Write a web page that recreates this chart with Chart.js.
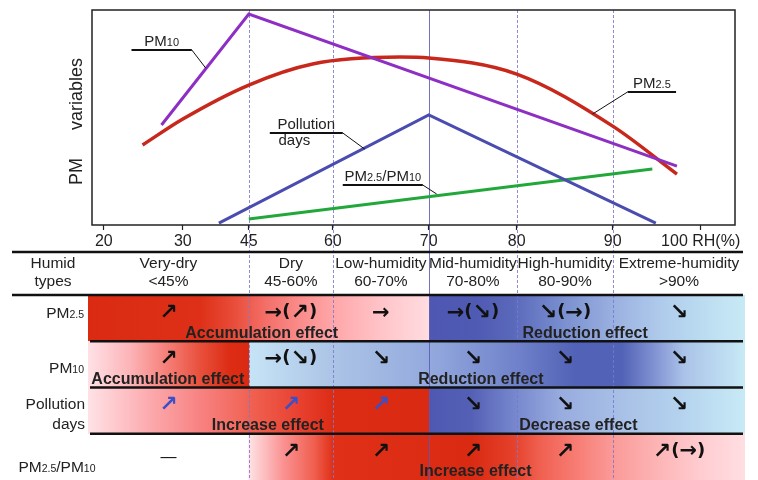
<!DOCTYPE html>
<html>
<head>
<meta charset="utf-8">
<script src="https://cdn.jsdelivr.net/npm/chart.js@4.4.1/dist/chart.umd.min.js"></script>
<style>
  html, body { margin: 0; padding: 0; background: #fff; }
  #wrap { position: relative; width: 758px; height: 480px; overflow: hidden; }
  #top { position: absolute; left: 0; top: 0; }
  #table { position: absolute; left: 0; top: 250px; }
</style>
</head>
<body>
<div id="wrap">
  <canvas id="top" width="758" height="250"></canvas>
  <canvas id="table" width="758" height="230"></canvas>
</div>
<script>
// ---- data ----
const rhTicks = [20, 30, 45, 60, 70, 80, 90, 100];
const rhLines = [45, 60, 70, 80, 90];

// curves: x = RH (%), y = relative level (0-100)
const pm10RH = [27.3, 45, 97.3];
const pm10Val = [46.5, 98.1, 27.4];
const pm25RH = [24.9, 30, 45, 56.4, 67, 70, 80, 90, 97.3];
const pm25Val = [37.2, 49.3, 65.1, 74.9, 78.1, 77.7, 70.2, 46.0, 23.7];
const daysRH = [38.2, 70, 94.9];
const daysVal = [0.9, 51.2, 0.9];
const ratioRH = [45, 94.5];
const ratioVal = [2.8, 26.0];

// table
const rows = ['PM2.5', 'PM10', 'Pollution days', 'PM2.5/PM10'];
const humidTypes = ['Very-dry', 'Dry', 'Low-humidity', 'Mid-humidity', 'High-humidity', 'Extreme-humidity'];
const humidRanges = ['<45%', '45-60%', '60-70%', '70-80%', '80-90%', '>90%'];
const humidBounds = [18, 45, 60, 70, 80, 90, 105];
const riseSpans = [[18, 70], [18, 45], [18, 70], [45, 105]];
const fallSpans = [[70, 105], [45, 105], [70, 105], null];
const trends = [
  ['↗', '→(↗)', '→', '→(↘)', '↘(→)', '↘'],
  ['↗', '→(↘)', '↘', '↘', '↘', '↘'],
  ['↗', '↗', '↗', '↘', '↘', '↘'],
  ['—', '↗', '↗', '↗', '↗', '↗(→)']
];
const effectText = [
  ['Accumulation effect', 'Reduction effect'],
  ['Accumulation effect', 'Reduction effect'],
  ['Increase effect', 'Decrease effect'],
  ['Increase effect', null]
];
const effectRH = [[47.3, 87.1], [28.1, 75.9], [48.4, 86.4], [75.3, null]];

// ---- styles ----
const FONT = '"Liberation Sans", Arial, sans-serif';
const INK = '#222';

// colour ramps along RH for the red (rise) and blue (fall) part of each row
const riseStops = [
  [[18, '#da2a12'], [34, '#de3018'], [41.4, '#e84c38'], [48.2, '#f4706a'], [54.1, '#fa8c8a'], [60, '#ffa6a8'], [65, '#ffc4c8'], [70, '#ffdce0']],
  [[18, '#ffe2e6'], [23.3, '#fcb4b8'], [28.4, '#f57a72'], [33.9, '#e8503c'], [40.7, '#dc2c14'], [45, '#da2a12']],
  [[18, '#ffe2e6'], [25.8, '#fcaaae'], [33.9, '#f88282'], [45.2, '#f06252'], [54.1, '#e84030'], [60, '#dc2c14'], [70, '#da2a12']],
  [[45, '#ffe2e6'], [51.3, '#fa9090'], [56.6, '#f06050'], [60, '#e03018'], [74.8, '#da2a12'], [79.5, '#e4402a'], [82.4, '#f06050'], [86.6, '#f88078'], [90, '#fa9a98'], [94.2, '#fcb0b0'], [99.9, '#ffccd0'], [105, '#ffdee2']]
];
const fallStops = [
  [[70, '#4e58b2'], [75.3, '#4f5ab3'], [79.5, '#5a68ba'], [84.9, '#7a90d0'], [90, '#9ab0e0'], [95.7, '#b0ccec'], [101.4, '#bee0f2'], [105, '#c8eaf6']],
  [[45, '#c6e4f6'], [60, '#acc4e6'], [70, '#94aade'], [80, '#6f82ca'], [86, '#5262b6'], [91, '#5262b6'], [95, '#8596d4'], [98, '#aac2e8'], [105, '#c8eaf6']],
  [[70, '#4e58b2'], [74.8, '#5460b5'], [79.5, '#7585cc'], [84.6, '#98acdf'], [90.8, '#a8c0e6'], [97.6, '#b4d2ee'], [105, '#c8eaf6']],
  null
];

// ---- RH axis: tick gaps drawn with their own widths ----
const rhGapWeights = [79, 66, 84, 96, 88, 96, 88];

class RhScale extends Chart.LinearScale {
  static id = 'rh';
  buildTicks() {
    this.start = this.min;
    this.end = this.max;
    return rhTicks.map(v => ({ value: v }));
  }
  unit(v) {
    let i = 0;
    while (i < rhGapWeights.length - 1 && v > rhTicks[i + 1]) i++;
    let u = 0;
    for (let k = 0; k < i; k++) u += rhGapWeights[k];
    return u + (v - rhTicks[i]) / (rhTicks[i + 1] - rhTicks[i]) * rhGapWeights[i];
  }
  getPixelForValue(v) {
    if (v === null || v === undefined) return NaN;
    const a = this.unit(this.min), b = this.unit(this.max);
    return this.getPixelForDecimal((this.unit(v) - a) / (b - a));
  }
}
Chart.register(RhScale);

// "PM2.5/PM10" -> [["PM",0],["2.5",1],["/PM",0],["10",1]]
function splitSub(text) {
  return text.split(/([\d.]+)/).filter(s => s).map(s => [s, /^[\d.]+$/.test(s)]);
}

function drawSub(ctx, text, x, y, align, size, sub) {
  const parts = splitSub(text);
  const big = size + 'px ' + FONT, small = sub + 'px ' + FONT;
  let w = 0;
  parts.forEach(([t, s]) => { ctx.font = s ? small : big; w += ctx.measureText(t).width; });
  let cx = align === 'center' ? x - w / 2 : align === 'right' ? x - w : x;
  ctx.textAlign = 'left';
  ctx.textBaseline = 'alphabetic';
  parts.forEach(([t, s]) => { ctx.font = s ? small : big; ctx.fillText(t, cx, y); cx += ctx.measureText(t).width; });
}

// arrows: each glyph gets its own size so they come out about equally large
function trendFont(ch) {
  if (ch === '↗' || ch === '↘') return 'bold 22px "DejaVu Sans", sans-serif';
  if (ch === '→') return 'bold 21px "DejaVu Sans", sans-serif';
  if (ch === '—') return '16px ' + FONT;
  return 'bold 18px "DejaVu Sans", sans-serif';
}

function drawTrend(ctx, text, cx, cy) {
  const chars = Array.from(text);
  let w = 0;
  chars.forEach(ch => { ctx.font = trendFont(ch); w += ctx.measureText(ch).width; });
  let px = cx - w / 2;
  ctx.textAlign = 'left';
  ctx.textBaseline = 'middle';
  chars.forEach(ch => {
    ctx.font = trendFont(ch);
    ctx.fillText(ch, px, cy + (ch === '(' || ch === ')' ? -1 : 0));
    px += ctx.measureText(ch).width;
  });
}

function drawBoundaries(ctx, x, y0, y1) {
  rhLines.forEach(v => {
    const px = Math.round(x.getPixelForValue(v)) + 0.5;
    ctx.beginPath();
    if (v === 70) { ctx.setLineDash([]); ctx.strokeStyle = 'rgba(90,90,180,0.85)'; }
    else { ctx.setLineDash([3, 2]); ctx.strokeStyle = 'rgba(120,120,210,0.85)'; }
    ctx.lineWidth = 1;
    ctx.moveTo(px, y0);
    ctx.lineTo(px, y1);
    ctx.stroke();
  });
  ctx.setLineDash([]);
}

// callouts in data coordinates: underline ends and the point the leader touches
const callouts = [
  { text: 'PM10', line: [23.5, 32.05, 81.4], tip: [35.2, 73.0] },
  { text: 'PM2.5', line: [91.7, 97.2, 61.9], tip: [87.9, 51.6] },
  { text: 'Pollution', below: 'days', line: [48.75, 61.04, 42.8], tip: [63.33, 35.3] },
  { text: 'PM2.5/PM10', line: [61.04, 69.38, 18.6], tip: [70.9, 14.4] }
];

const topDecor = {
  id: 'topDecor',
  beforeDatasetsDraw(chart) {
    const { ctx, chartArea: a, scales: { x } } = chart;
    ctx.save();
    drawBoundaries(ctx, x, a.top, chart.height);
    ctx.restore();
  },
  afterDatasetsDraw(chart) {
    const { ctx, chartArea: a, scales: { x, y } } = chart;
    ctx.save();
    ctx.strokeStyle = INK;
    ctx.lineWidth = 1.5;
    ctx.strokeRect(a.left, a.top, a.right - a.left, a.bottom - a.top);

    // y title
    ctx.fillStyle = INK;
    ctx.save();
    ctx.translate(82, 185);
    ctx.rotate(-Math.PI / 2);
    ctx.font = '18px ' + FONT;
    ctx.textAlign = 'left';
    ctx.textBaseline = 'alphabetic';
    ctx.fillText('PM', 0, 0);
    ctx.fillText('variables', ctx.measureText('PM').width + 28, 0);
    ctx.restore();

    callouts.forEach(c => {
      const x0 = x.getPixelForValue(c.line[0]), x1 = x.getPixelForValue(c.line[1]);
      const ly = y.getPixelForValue(c.line[2]);
      const tx = x.getPixelForValue(c.tip[0]), ty = y.getPixelForValue(c.tip[1]);
      const from = Math.abs(tx - x0) < Math.abs(tx - x1) ? x0 : x1;
      ctx.strokeStyle = '#111';
      ctx.lineWidth = 2;
      ctx.beginPath();
      ctx.moveTo(x0, ly); ctx.lineTo(x1, ly);
      ctx.stroke();
      ctx.lineWidth = 1;
      ctx.beginPath();
      ctx.moveTo(from, ly); ctx.lineTo(tx, ty);
      ctx.stroke();
      ctx.fillStyle = INK;
      drawSub(ctx, c.text, (x0 + x1) / 2, ly - 4, 'center', 15, 11);
      if (c.below) drawSub(ctx, c.below, (x0 + x1) / 2 - 12, ly + 12, 'center', 15, 11);
    });
    ctx.restore();
  }
};

const line = (xs, ys, color, width, extra) => Object.assign({
  data: xs.map((v, i) => ({ x: v, y: ys[i] })),
  borderColor: color, borderWidth: width, pointRadius: 0, fill: false
}, extra || {});

new Chart(document.getElementById('top'), {
  type: 'line',
  data: {
    datasets: [
      line(pm10RH, pm10Val, '#8e2fc4', 3),
      line(pm25RH, pm25Val, '#c8281c', 3.5, { cubicInterpolationMode: 'monotone' }),
      line(daysRH, daysVal, '#4a4caf', 3),
      line(ratioRH, ratioVal, '#22a83a', 3)
    ]
  },
  options: {
    responsive: false,
    animation: false,
    events: [],
    layout: { padding: { left: 92, right: 23, top: 10, bottom: 0 } },
    plugins: { legend: { display: false }, tooltip: { enabled: false } },
    scales: {
      x: {
        type: 'rh', min: 18.5, max: 103.9,
        afterFit: s => { s.height = 25; s.paddingLeft = 0; s.paddingRight = 0; },
        grid: { drawOnChartArea: false, drawTicks: true, tickLength: 5, tickColor: INK, tickWidth: 1.2 },
        border: { display: false },
        ticks: {
          autoSkip: false, maxRotation: 0, padding: 2, color: INK,
          font: { family: FONT, size: 16 },
          callback: (v, i) => i === rhTicks.length - 1 ? v + ' RH(%)' : v
        }
      },
      y: { display: false, min: 0, max: 100 }
    }
  },
  plugins: [topDecor]
});

// ---- table ----
function rowFill(c, table) {
  const stops = c.dataIndex === undefined ? null : table[c.dataIndex];
  if (!stops || !c.chart.chartArea) return 'transparent';
  const x = c.chart.scales.x;
  const p0 = x.getPixelForValue(stops[0][0]);
  const p1 = x.getPixelForValue(stops[stops.length - 1][0]);
  const g = c.chart.ctx.createLinearGradient(p0, 0, p1, 0);
  stops.forEach(([v, col]) => g.addColorStop(Math.min(1, Math.max(0, (x.getPixelForValue(v) - p0) / (p1 - p0))), col));
  return g;
}

const tableDecor = {
  id: 'tableDecor',
  afterDatasetsDraw(chart) {
    const { ctx, chartArea: a, scales: { x, y } } = chart;
    ctx.save();
    drawBoundaries(ctx, x, 0, chart.height);

    // rules
    ctx.strokeStyle = '#111';
    ctx.lineWidth = 2.5;
    const rule = (x0, x1, yy) => { ctx.beginPath(); ctx.moveTo(x0, yy); ctx.lineTo(x1, yy); ctx.stroke(); };
    rule(12, 743, 2);
    rule(12, 743, a.top);
    for (let i = 1; i < rows.length; i++) {
      rule(90, 743, (y.getPixelForValue(i - 1) + y.getPixelForValue(i)) / 2);
    }

    // header row
    ctx.fillStyle = INK;
    ctx.font = '15.5px ' + FONT;
    ctx.textAlign = 'center';
    ctx.textBaseline = 'middle';
    ctx.fillText('Humid', 53, 14);
    ctx.fillText('types', 53, 32);
    const colMid = i => (x.getPixelForValue(humidBounds[i]) + x.getPixelForValue(humidBounds[i + 1])) / 2;
    humidTypes.forEach((t, i) => {
      ctx.fillText(t, colMid(i), 14);
      ctx.fillText(humidRanges[i], colMid(i), 32);
    });

    // row labels
    const rowLabelDy = [-6, 3, 4, 10];
    rows.forEach((r, i) => {
      const cy = y.getPixelForValue(i) + rowLabelDy[i];
      ctx.fillStyle = INK;
      if (r === 'Pollution days') {
        ctx.font = '15.5px ' + FONT;
        ctx.textAlign = 'right';
        ctx.textBaseline = 'middle';
        ctx.fillText('Pollution', 85, cy - 10);
        ctx.fillText('days', 85, cy + 10);
      } else if (i === rows.length - 1) {
        drawSub(ctx, r, 57, cy + 5.5, 'center', 15.5, 10.5);
      } else {
        drawSub(ctx, r, 84, cy + 5.5, 'right', 15.5, 10.5);
      }
    });

    // trend arrows
    trends.forEach((row, r) => {
      const cy = y.getPixelForValue(r) - 5;
      row.forEach((t, c) => {
        ctx.fillStyle = r === 2 && t === '↗' ? '#3a4fc8' : '#111';
        drawTrend(ctx, t, colMid(c), t === '—' ? cy + 6 : cy);
      });
    });

    // effect names
    ctx.fillStyle = INK;
    ctx.font = 'bold 16px ' + FONT;
    ctx.textAlign = 'center';
    ctx.textBaseline = 'middle';
    effectText.forEach((pair, r) => {
      pair.forEach((t, k) => {
        if (!t) return;
        ctx.fillText(t, x.getPixelForValue(effectRH[r][k]), y.getPixelForValue(r) + 15);
      });
    });
    ctx.restore();
  }
};

new Chart(document.getElementById('table'), {
  type: 'bar',
  data: {
    labels: rows,
    datasets: [
      { data: riseSpans, backgroundColor: c => rowFill(c, riseStops) },
      { data: fallSpans, backgroundColor: c => rowFill(c, fallStops) }
    ]
  },
  options: {
    indexAxis: 'y',
    responsive: false,
    animation: false,
    events: [],
    datasets: { bar: { grouped: false, barPercentage: 1, categoryPercentage: 1, borderWidth: 0 } },
    layout: { padding: { left: 88, right: 13, top: 45, bottom: 0 } },
    plugins: { legend: { display: false }, tooltip: { enabled: false } },
    scales: {
      x: { type: 'rh', display: false, min: 18, max: 105 },
      y: { display: false }
    }
  },
  plugins: [tableDecor]
});
</script>
</body>
</html>
